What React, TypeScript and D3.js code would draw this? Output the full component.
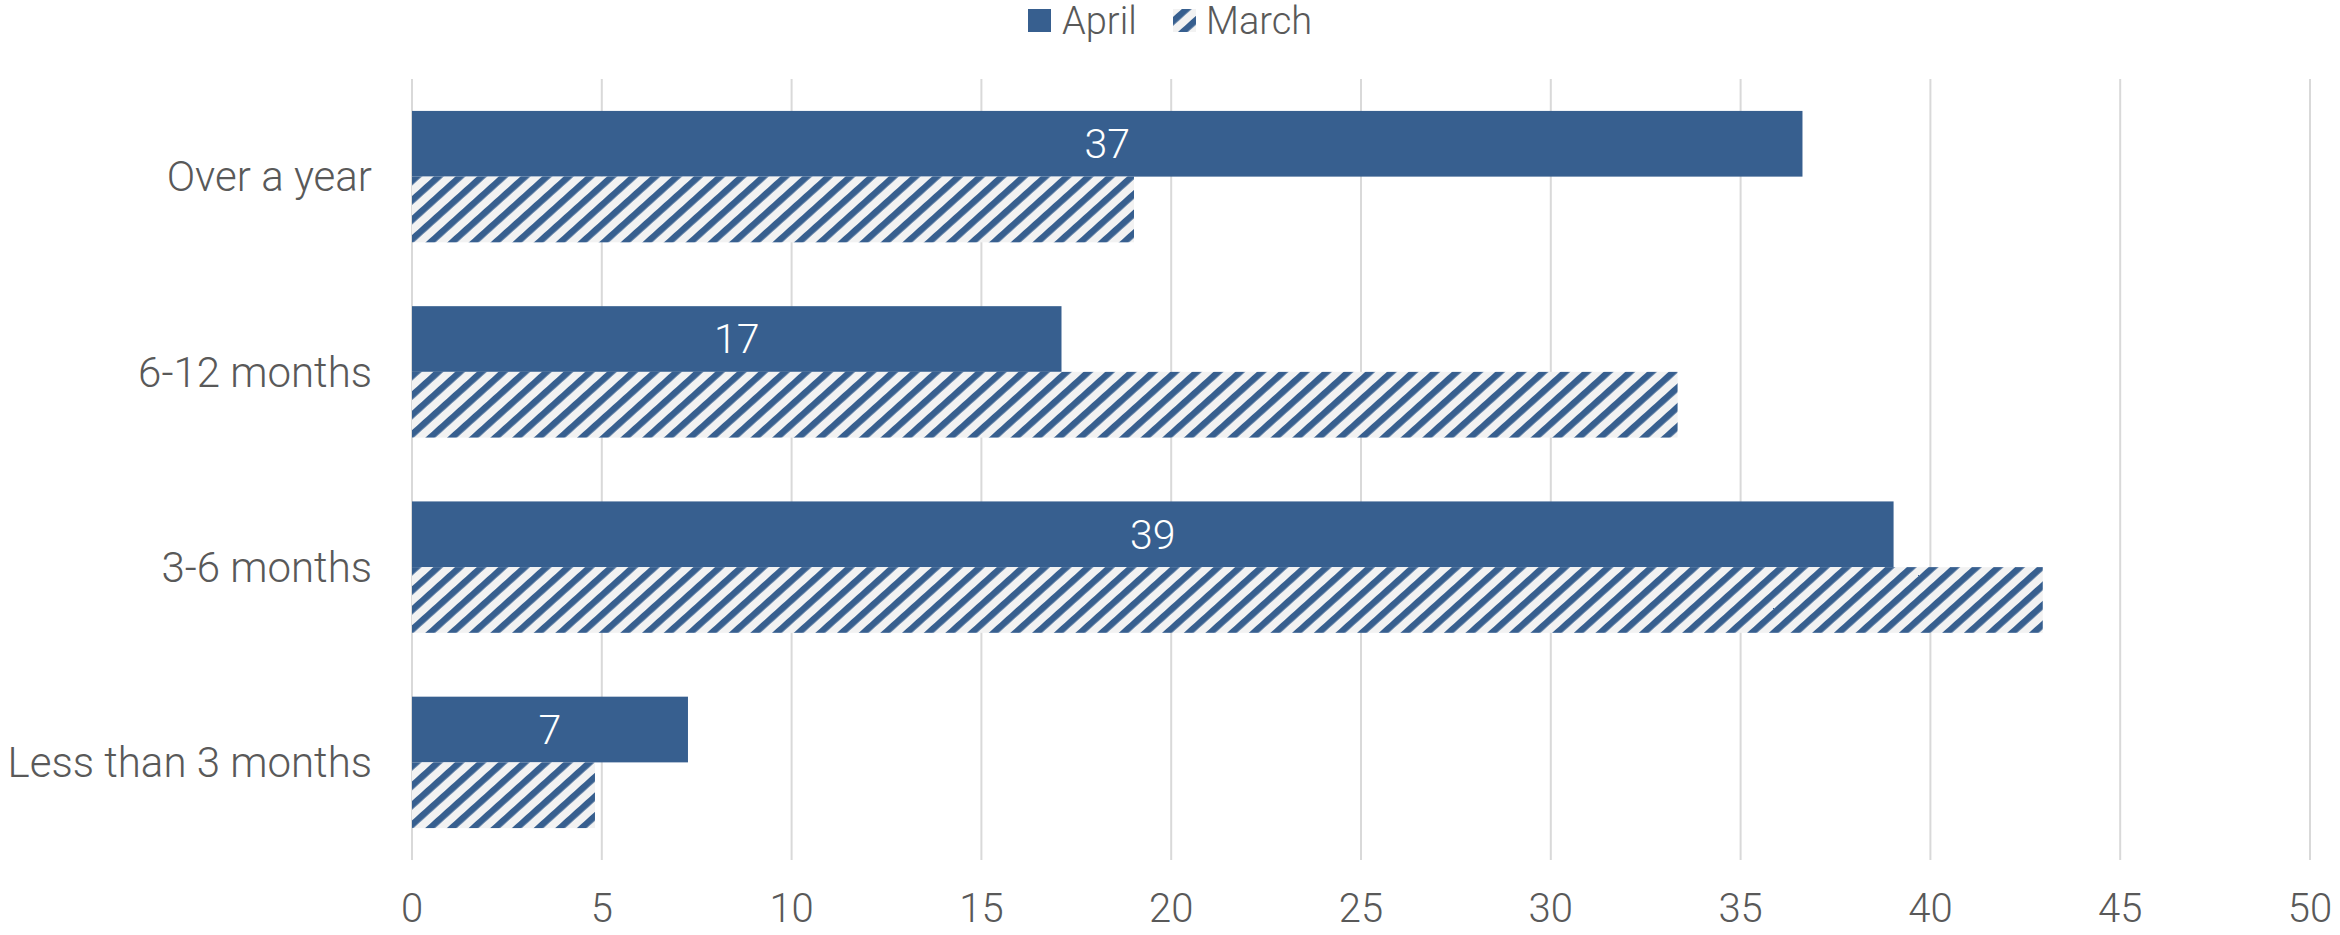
import * as d3 from "d3";
import { useEffect, useRef } from "react";

const categories = ["Over a year", "6-12 months", "3-6 months", "Less than 3 months"];
const april = [36.63, 17.11, 39.03, 7.27];
const march = [19.02, 33.34, 42.96, 4.82];
const aprilLabels = ["37", "17", "39", "7"];
const xTicks = [0, 5, 10, 15, 20, 25, 30, 35, 40, 45, 50];

const width = 2340;
const height = 935;
const margin = { top: 79, bottom: 75, left: 412, right: 30 };

const blue = "#375f8f";
const textColor = "#595959";
const gridColor = "#d9d9d9";
const font = "'Roboto', 'Liberation Sans', sans-serif";

const App = () => {
	const chartRef = useRef<SVGSVGElement>(null);

	useEffect(() => {
		const svg = d3.select(chartRef.current);
		svg.selectAll("*").remove();

		const boundsWidth = width - margin.left - margin.right;
		const boundsHeight = height - margin.top - margin.bottom;

		const scaleX = d3.scaleLinear().domain([0, 50]).range([0, boundsWidth]);
		const scaleY = d3
			.scaleBand()
			.domain(categories)
			.range([0, boundsHeight])
			.paddingInner(0.327)
			.paddingOuter(0.1635);
		const barH = scaleY.bandwidth() / 2;

		// hatch pattern for March
		const defs = svg.append("defs");
		const pat = defs
			.append("pattern")
			.attr("id", "hatch")
			.attr("patternUnits", "userSpaceOnUse")
			.attr("width", 10)
			.attr("height", 14.5)
			.attr("patternTransform", "rotate(-42)");
		pat.append("rect").attr("width", 10).attr("height", 14.5).attr("fill", "#f2f2f2");
		pat.append("rect").attr("width", 10).attr("height", 6.5).attr("fill", blue);

		const g = svg.append("g").attr("transform", `translate(${margin.left}, ${margin.top})`);

		// gridlines
		g.selectAll(".grid")
			.data(xTicks)
			.enter()
			.append("line")
			.attr("x1", d => scaleX(d))
			.attr("x2", d => scaleX(d))
			.attr("y1", 0)
			.attr("y2", boundsHeight)
			.attr("stroke", gridColor)
			.attr("stroke-width", 2);

		// tick labels
		g.selectAll(".tick-label")
			.data(xTicks)
			.enter()
			.append("text")
			.attr("x", d => scaleX(d))
			.attr("y", boundsHeight + 62)
			.attr("text-anchor", "middle")
			.style("font-family", font)
			.style("font-weight", 300)
			.style("font-size", "40px")
			.style("fill", textColor)
			.text(d => d);

		// category labels
		g.selectAll(".cat-label")
			.data(categories)
			.enter()
			.append("text")
			.attr("x", -40)
			.attr("y", d => scaleY(d) + scaleY.bandwidth() / 2)
			.attr("dy", "0.35em")
			.attr("text-anchor", "end")
			.style("font-family", font)
			.style("font-weight", 300)
			.style("font-size", "42px")
			.style("fill", textColor)
			.text(d => d);

		// April bars
		g.selectAll(".bar-april")
			.data(categories)
			.enter()
			.append("rect")
			.attr("x", 0)
			.attr("y", d => scaleY(d))
			.attr("width", (d, i) => scaleX(april[i]))
			.attr("height", barH)
			.attr("fill", blue);

		// March bars
		g.selectAll(".bar-march")
			.data(categories)
			.enter()
			.append("rect")
			.attr("x", 0)
			.attr("y", d => scaleY(d) + barH)
			.attr("width", (d, i) => scaleX(march[i]))
			.attr("height", barH)
			.attr("fill", "url(#hatch)");

		// April labels
		g.selectAll(".bar-label")
			.data(categories)
			.enter()
			.append("text")
			.attr("x", (d, i) => scaleX(april[i]) / 2)
			.attr("y", d => scaleY(d) + barH / 2)
			.attr("dy", "0.35em")
			.attr("text-anchor", "middle")
			.style("font-family", font)
			.style("font-weight", 300)
			.style("font-size", "41px")
			.style("fill", "#ffffff")
			.text((d, i) => aprilLabels[i]);

		// legend
		const legend = svg.append("g");
		legend.append("rect").attr("x", 1028).attr("y", 9).attr("width", 23).attr("height", 23).attr("fill", blue);
		legend
			.append("text")
			.attr("x", 1062)
			.attr("y", 34)
			.style("font-family", font)
			.style("font-weight", 300)
			.style("font-size", "38px")
			.style("fill", textColor)
			.text("April");
		legend.append("rect").attr("x", 1173).attr("y", 9).attr("width", 23).attr("height", 23).attr("fill", "url(#hatch)");
		legend
			.append("text")
			.attr("x", 1206)
			.attr("y", 34)
			.style("font-family", font)
			.style("font-weight", 300)
			.style("font-size", "38px")
			.style("fill", textColor)
			.text("March");
	}, []);

	return (
		<svg
			ref={chartRef}
			width={width}
			height={height}
			style={{ position: "absolute", left: 0, top: 0, background: "#ffffff" }}
		></svg>
	);
};

export default App;
